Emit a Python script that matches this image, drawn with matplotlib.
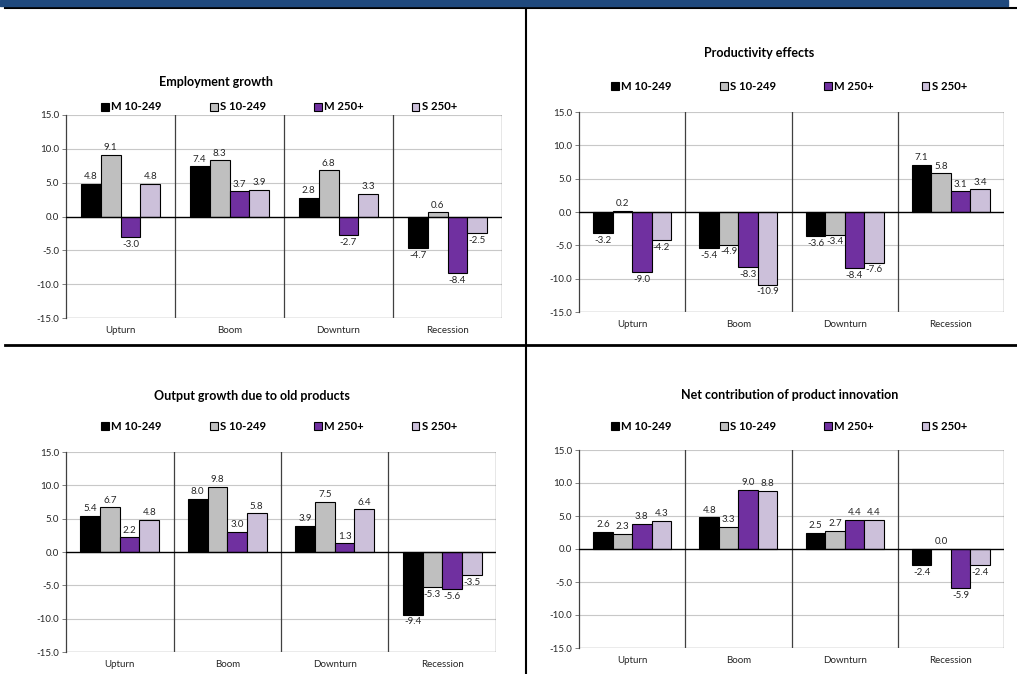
import matplotlib.pyplot as plt
import numpy as np
from matplotlib.lines import Line2D
from matplotlib.patches import Rectangle

plt.rcParams['font.family'] = ['Lato', 'DejaVu Sans']

# Categories and series
phases = ["Upturn", "Boom", "Downturn", "Recession"]
series_names = ["M 10-249", "S 10-249", "M 250+", "S 250+"]
series_colors = ["#000000", "#BFBFBF", "#7030A0", "#CCC0DA"]

# Employment growth
emp_m_small = [4.8, 7.4, 2.8, -4.7]
emp_s_small = [9.1, 8.3, 6.8, 0.6]
emp_m_large = [-3.0, 3.7, -2.7, -8.4]
emp_s_large = [4.8, 3.9, 3.3, -2.5]

# Productivity effects
prod_m_small = [-3.2, -5.4, -3.6, 7.1]
prod_s_small = [0.2, -4.9, -3.4, 5.8]
prod_m_large = [-9.0, -8.3, -8.4, 3.1]
prod_s_large = [-4.2, -10.9, -7.6, 3.4]

# Output growth due to old products
old_m_small = [5.4, 8.0, 3.9, -9.4]
old_s_small = [6.7, 9.8, 7.5, -5.3]
old_m_large = [2.2, 3.0, 1.3, -5.6]
old_s_large = [4.8, 5.8, 6.4, -3.5]

# Net contribution of product innovation
net_m_small = [2.6, 4.8, 2.5, -2.4]
net_s_small = [2.3, 3.3, 2.7, 0.0]
net_m_large = [3.8, 9.0, 4.4, -5.9]
net_s_large = [4.3, 8.8, 4.4, -2.4]

y_ticks = [-15, -10, -5, 0, 5, 10, 15]

W, H = 1017, 674
fig = plt.figure(figsize=(W / 100, H / 100), dpi=100)


def px_box(x0, y0, x1, y1):
    # convert pixel box (top-left origin) to figure fractions
    return [x0 / W, 1 - y1 / H, (x1 - x0) / W, (y1 - y0) / H]


def draw_panel(box, title, title_xy, legend_xy, data):
    ax = fig.add_axes(px_box(*box))
    x = np.arange(len(phases))
    w = 0.183
    handles = []
    for i, vals in enumerate(data):
        offs = (i - 1.5) * w
        bars = ax.bar(x + offs, vals, width=w, color=series_colors[i],
                      edgecolor="black", linewidth=0.8, zorder=3,
                      label=series_names[i])
        handles.append(bars)
        for xi, v in zip(x + offs, vals):
            dy = 2 if v >= 0 else -2
            va = "bottom" if v >= 0 else "top"
            ax.annotate(f"{v:.1f}", (xi, v), xytext=(0, dy),
                        textcoords="offset points", ha="center", va=va,
                        fontsize=7, color="#262626", zorder=4)
    ax.set_xlim(-0.5, 3.5)
    ax.set_ylim(-15, 15)
    ax.set_yticks(y_ticks)
    ax.set_yticklabels([f"{t:.1f}" for t in y_ticks], fontsize=7, color="#262626")
    ax.set_xticks(x)
    ax.set_xticklabels(phases, fontsize=7, color="#262626")
    ax.tick_params(axis="x", length=0, pad=6)
    ax.tick_params(axis="y", length=3, width=0.7, color="#7F7F7F", pad=2)
    for t in y_ticks:
        if t == 0:
            continue
        ax.axhline(t, color="#C8C8C8", linewidth=0.8, zorder=1)
    ax.axhline(0, color="black", linewidth=1.0, zorder=3.5)
    for b in [0.5, 1.5, 2.5]:
        ax.axvline(b, color="#404040", linewidth=0.9, zorder=1)
    for s in ["top", "right", "bottom"]:
        ax.spines[s].set_visible(False)
    ax.spines["left"].set_color("#404040")
    ax.spines["left"].set_linewidth(0.9)
    ax.axvline(3.5, color="#404040", linewidth=0.9, zorder=1)
    ax.axhline(-15, color="#7F7F7F", linewidth=0.9, zorder=1)

    fig.text(title_xy[0] / W, 1 - title_xy[1] / H, title, ha="center",
             va="center", fontsize=9, fontweight="bold")
    fig.legend(handles=handles, loc="center",
               bbox_to_anchor=(legend_xy[0] / W, 1 - legend_xy[1] / H),
               ncol=4, frameon=False, handlelength=0.7, handleheight=0.7,
               handletextpad=0.2, columnspacing=4.2,
               prop={"weight": "bold", "size": 8.2})
    return ax


draw_panel((66, 115, 502, 318), "Employment growth", (216, 82), (279, 107),
           [emp_m_small, emp_s_small, emp_m_large, emp_s_large])
draw_panel((579, 112, 1004, 312), "Productivity effects", (759, 53), (789, 86),
           [prod_m_small, prod_s_small, prod_m_large, prod_s_large])
draw_panel((66, 452, 496, 652), "Output growth due to old products", (252, 396), (279, 426),
           [old_m_small, old_s_small, old_m_large, old_s_large])
draw_panel((579, 450, 1004, 648), "Net contribution of product innovation", (790, 395), (789, 426),
           [net_m_small, net_s_small, net_m_large, net_s_large])

# page framing: blue header bar and table rules
fig.add_artist(Rectangle((0, 1 - 6 / H), 1008 / W, 6 / H, transform=fig.transFigure,
                         color="#1F497D", zorder=5))
fig.add_artist(Line2D([5 / W, 1], [1 - 7.5 / H, 1 - 7.5 / H], color="black", linewidth=1.5))
fig.add_artist(Line2D([526 / W, 526 / W], [0, 1 - 7.5 / H], color="black", linewidth=1.5))
fig.add_artist(Line2D([5 / W, 1], [1 - 345 / H, 1 - 345 / H], color="black", linewidth=2))

fig.savefig("out.png", dpi=100)
